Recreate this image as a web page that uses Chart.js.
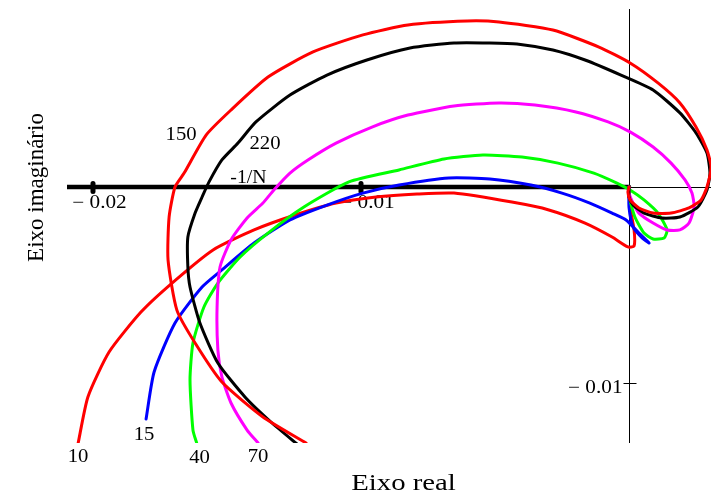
<!DOCTYPE html>
<html>
<head>
<meta charset="utf-8">
<script src="https://cdn.jsdelivr.net/npm/chart.js@4.4.1/dist/chart.umd.min.js"></script>
<style>
  html, body { margin: 0; padding: 0; background: #fff; }
  #nyquist { display: block; }
</style>
</head>
<body>
<canvas id="nyquist" width="711" height="495"></canvas>
<script>
// Lugares de Nyquist G(jw) para cada ganho (parte real / parte imaginaria)
const re10 = [-0.02056, -0.02019, -0.01940, -0.01821, -0.01705, -0.01552, -0.01399, -0.01246, -0.01093, -0.00944,
  -0.00791, -0.00653, -0.00437, -0.00299, -0.00164, -0.00063, -0.00004, 0.00019, 0.00019, 0.00004, 0, 0];
const im10 = [-0.01311, -0.01071, -0.00842, -0.00638, -0.00490, -0.00321, -0.00219, -0.00143, -0.00082, -0.00051,
  -0.00036, -0.00031, -0.00077, -0.00117, -0.00184, -0.00255, -0.00306, -0.00301, -0.00219, -0.00102, -0.00026, 0];

const re15 = [-0.01802, -0.01772, -0.01694, -0.01593, -0.01519, -0.01399, -0.01265, -0.01127, -0.00993, -0.00858,
  -0.00672, -0.00519, -0.00366, -0.00250, -0.00146, -0.00063, -0.00011, 0.00037, 0.00075, 0.00049, 0.00015, 0, 0, 0];
const im15 = [-0.01184, -0.00944, -0.00694, -0.00510, -0.00423, -0.00286, -0.00168, -0.00092, -0.00031, 0.00010,
  0.00046, 0.00041, 0.00010, -0.00031, -0.00082, -0.00133, -0.00168, -0.00235, -0.00286, -0.00260, -0.00204, -0.00102, -0.00015, 0];

const re40 = [-0.01612, -0.01627, -0.01638, -0.01627, -0.01586, -0.01534, -0.01451, -0.01347, -0.01213, -0.01045,
  -0.00858, -0.00690, -0.00545, -0.00399, -0.00265, -0.00131, -0.00045, 0.00004, 0.00056, 0.00108,
  0.00142, 0.00131, 0.00090, 0.00056, 0.00022, 0.00004, 0, 0];
const im40 = [-0.01311, -0.01240, -0.00985, -0.00796, -0.00612, -0.00490, -0.00357, -0.00235, -0.00102, 0.00026,
  0.00087, 0.00143, 0.00163, 0.00153, 0.00122, 0.00071, 0.00020, -0.00015, -0.00066, -0.00133,
  -0.00219, -0.00260, -0.00265, -0.00235, -0.00153, -0.00066, -0.00015, 0];

const re70 = [-0.01384, -0.01425, -0.01485, -0.01519, -0.01534, -0.01537, -0.01526, -0.01485, -0.01425, -0.01366,
  -0.01325, -0.01265, -0.01198, -0.01093, -0.00959, -0.00825, -0.00653, -0.00485, -0.00351, -0.00198,
  -0.00078, 0.00004, 0.00090, 0.00157, 0.00209, 0.00235, 0.00243, 0.00224, 0.00190, 0.00142,
  0.00090, 0.00037, 0.00015, 0, 0];
const im70 = [-0.01306, -0.01240, -0.01102, -0.00969, -0.00832, -0.00612, -0.00408, -0.00270, -0.00158, -0.00082,
  -0.00015, 0.00071, 0.00138, 0.00224, 0.00306, 0.00367, 0.00413, 0.00429, 0.00418, 0.00383,
  0.00332, 0.00281, 0.00204, 0.00122, 0.00036, -0.00031, -0.00102, -0.00184, -0.00219, -0.00219,
  -0.00184, -0.00133, -0.00082, -0.00031, 0];

const re150 = [-0.01205, -0.01366, -0.01519, -0.01619, -0.01687, -0.01720, -0.01716, -0.01694, -0.01660, -0.01578,
  -0.01485, -0.01347, -0.01179, -0.00993, -0.00825, -0.00604, -0.00485, -0.00284, -0.00112, 0.00004,
  0.00108, 0.00190, 0.00250, 0.00291, 0.00306, 0.00291, 0.00269, 0.00224, 0.00157, 0.00090,
  0.00037, 0.00004, -0.00004, 0];
const im150 = [-0.01306, -0.01173, -0.00995, -0.00796, -0.00628, -0.00372, -0.00153, 0, 0.00071, 0.00265,
  0.00393, 0.00561, 0.00689, 0.00776, 0.00827, 0.00847, 0.00842, 0.00801, 0.00714, 0.00633,
  0.00531, 0.00429, 0.00306, 0.00189, 0.00102, 0, -0.00066, -0.00107, -0.00133, -0.00133,
  -0.00107, -0.00066, -0.00026, 0];

const re220 = [-0.01239, -0.01332, -0.01433, -0.01534, -0.01601, -0.01638, -0.01646, -0.01646, -0.01619, -0.01593,
  -0.01567, -0.01519, -0.01459, -0.01392, -0.01265, -0.01127, -0.00978, -0.00817, -0.00653, -0.00519,
  -0.00418, -0.00284, -0.00164, -0.00030, 0.00090, 0.00190, 0.00250, 0.00291, 0.00302, 0.00291,
  0.00257, 0.00190, 0.00123, 0.00056, 0.00015, 0, 0, 0];
const im220 = [-0.01311, -0.01204, -0.01071, -0.00898, -0.00694, -0.00510, -0.00408, -0.00255, -0.00133, -0.00051,
  0.00026, 0.00138, 0.00224, 0.00332, 0.00469, 0.00571, 0.00648, 0.00709, 0.00735, 0.00735,
  0.00730, 0.00699, 0.00648, 0.00571, 0.00495, 0.00378, 0.00276, 0.00173, 0.00071, -0.00015,
  -0.00102, -0.00153, -0.00158, -0.00133, -0.00092, -0.00051, -0.00015, 0];

// -1/N (funcao descritiva) sobre o eixo real negativo
const reN = [-0.02097, 0];
const imN = [0, 0];

const xTicks = [-0.02, -0.01];
const yTicks = [-0.01];

const SERIF = '"Liberation Serif", "Times New Roman", serif';

function pts(re, im) {
  return re.map((x, i) => ({ x: x, y: im[i] }));
}

function curve(label, re, im, color) {
  return {
    label: label,
    data: pts(re, im),
    showLine: true,
    borderColor: color,
    backgroundColor: color,
    borderWidth: 3,
    pointRadius: 0
  };
}

// texto serifado, um pouco alargado na horizontal
function serifText(ctx, txt, x, y, size, sx, align) {
  ctx.save();
  ctx.translate(x, y);
  ctx.scale(sx, 1);
  ctx.font = size + 'px ' + SERIF;
  ctx.fillStyle = '#000';
  ctx.textAlign = align || 'center';
  ctx.textBaseline = 'alphabetic';
  ctx.fillText(txt, 0, 0);
  ctx.restore();
}

function tickText(v) {
  return (v < 0 ? '\u2212 ' : '') + Math.abs(v).toFixed(2);
}

const axesAndLabels = {
  id: 'axesAndLabels',
  beforeDatasetsDraw(chart) {
    const ctx = chart.ctx;
    const area = chart.chartArea;
    const xs = chart.scales.x;
    const ys = chart.scales.y;
    const x0 = Math.round(xs.getPixelForValue(0)) + 0.5;
    const y0 = Math.round(ys.getPixelForValue(0)) + 0.5;

    ctx.save();
    ctx.strokeStyle = '#000';
    ctx.lineWidth = 1;
    ctx.beginPath();
    ctx.moveTo(area.left, y0);
    ctx.lineTo(area.right, y0);
    ctx.moveTo(x0, area.top);
    ctx.lineTo(x0, area.bottom);
    ctx.stroke();

    // marcas do eixo real
    ctx.lineWidth = 5;
    ctx.lineCap = 'round';
    xTicks.forEach(v => {
      const px = xs.getPixelForValue(v);
      ctx.beginPath();
      ctx.moveTo(px, y0 - 4);
      ctx.lineTo(px, y0 + 4);
      ctx.stroke();
      serifText(ctx, tickText(v), px + 6.5, y0 + 20, 18, 1.18, 'center');
    });

    // marcas do eixo imaginario
    ctx.lineWidth = 1;
    ctx.lineCap = 'butt';
    yTicks.forEach(v => {
      const py = Math.round(ys.getPixelForValue(v)) + 0.5;
      ctx.beginPath();
      ctx.moveTo(x0 - 6, py);
      ctx.lineTo(x0 + 7, py);
      ctx.stroke();
      serifText(ctx, tickText(v), x0 - 7, py + 9, 18, 1.18, 'right');
    });

    // titulos dos eixos
    serifText(ctx, 'Eixo real', 403.5, 490, 23, 1.25, 'center');
    ctx.save();
    ctx.translate(43, 187.5);
    ctx.rotate(-Math.PI / 2);
    serifText(ctx, 'Eixo imagin\u00e1rio', 0, 0, 23, 1, 'center');
    ctx.restore();

    serifText(ctx, '-1/N', xs.getPixelForValue(-0.0142), y0 - 4.5, 18, 1.1, 'center');
    ctx.restore();
  },
  afterDatasetsDraw(chart) {
    const ctx = chart.ctx;
    // rotulo de cada curva junto de um ponto do proprio lugar
    const tags = [
      { text: '10', ds: 5, idx: 0, dx: 0, dy: 18 },
      { text: '15', ds: 4, idx: 0, dx: -2, dy: 21 },
      { text: '40', ds: 3, idx: 0, dx: 2.5, dy: 19 },
      { text: '70', ds: 2, idx: 0, dx: 0, dy: 19 },
      { text: '150', ds: 0, idx: 9, dx: -25, dy: 5 },
      { text: '220', ds: 1, idx: 12, dx: 27, dy: 6 }
    ];
    tags.forEach(t => {
      const p = chart.getDatasetMeta(t.ds).data[t.idx];
      serifText(ctx, t.text, p.x + t.dx, p.y + t.dy, 18, 1.15, 'center');
    });
  }
};

new Chart(document.getElementById('nyquist'), {
  type: 'scatter',
  data: {
    datasets: [
      curve('150', re150, im150, '#ff0000'),
      curve('220', re220, im220, '#000000'),
      curve('70', re70, im70, '#ff00ff'),
      curve('40', re40, im40, '#00ff00'),
      curve('15', re15, im15, '#0000ff'),
      curve('10', re10, im10, '#ff0000'),
      {
        label: '-1/N',
        data: pts(reN, imN),
        showLine: true,
        borderColor: '#000000',
        borderWidth: 4.5,
        pointRadius: 0,
        tension: 0
      }
    ]
  },
  options: {
    responsive: false,
    animation: false,
    layout: { padding: { left: 67, top: 9, right: 0, bottom: 52 } },
    plugins: {
      legend: { display: false },
      tooltip: { enabled: false }
    },
    elements: {
      line: { tension: 0.2, borderJoinStyle: 'round', borderCapStyle: 'round' }
    },
    scales: {
      x: { type: 'linear', display: false, min: -0.02097, max: 0.00306 },
      y: { type: 'linear', display: false, min: -0.013061, max: 0.009082 }
    }
  },
  plugins: [axesAndLabels]
});
</script>
</body>
</html>
